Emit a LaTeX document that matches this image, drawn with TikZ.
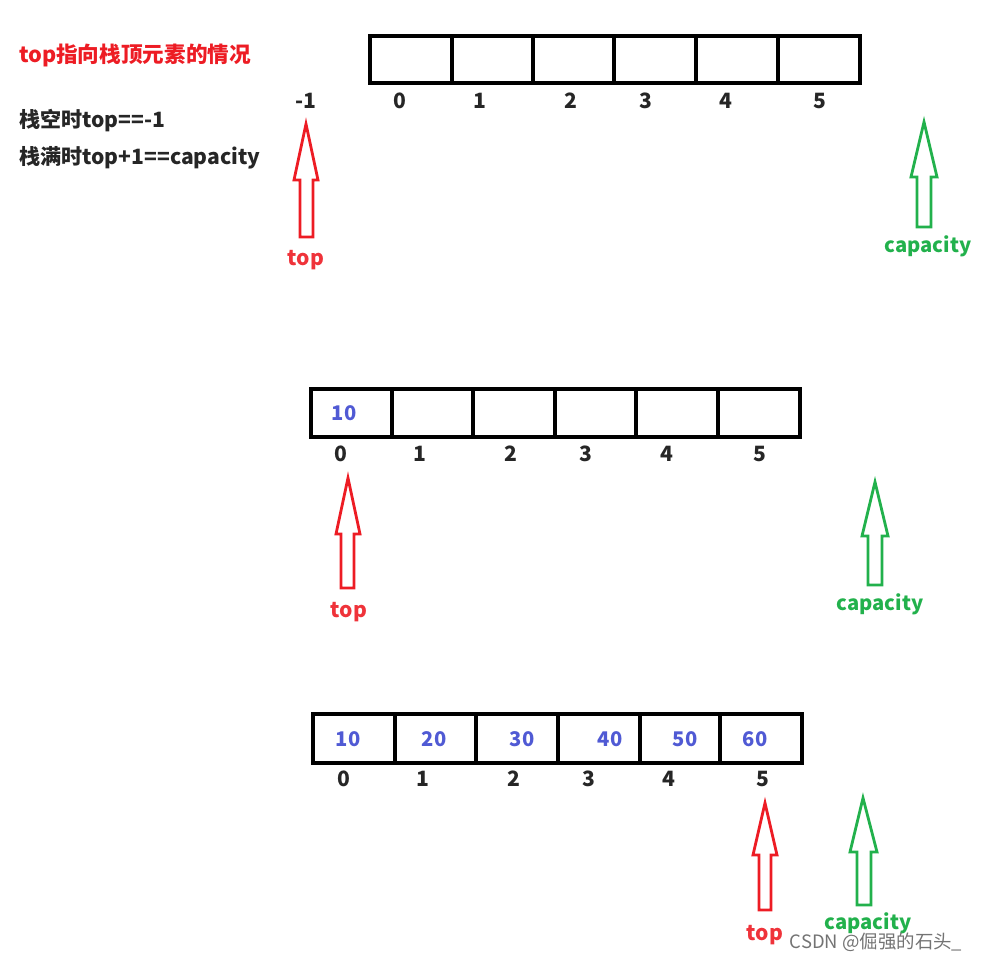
\documentclass[tikz,border=0pt]{standalone}
\usepackage{fontspec}
\setmainfont{Noto Sans CJK SC}
\usetikzlibrary{arrows.meta}
\definecolor{arrred}{RGB}{237,28,36}
\definecolor{arrgreen}{RGB}{34,177,76}
\definecolor{valblue}{RGB}{80,90,212}
\tikzset{
  cellline/.style={black, line width=2pt},
  idx/.style={font=\fontsize{12}{14}\selectfont\bfseries, text=black!85},
  val/.style={font=\fontsize{11.5}{13}\selectfont\bfseries, text=valblue},
  note/.style={font=\fontsize{12}{15}\selectfont\bfseries, text=black!85, anchor=west},
  redarrow/.style={draw=arrred, line width=1.6pt, line join=miter},
  greenarrow/.style={draw=arrgreen, line width=1.6pt, line join=miter},
  redlabel/.style={font=\fontsize{12}{14}\selectfont\bfseries, text=arrred!90},
  greenlabel/.style={font=\fontsize{11.5}{14}\selectfont\bfseries, text=arrgreen}
}

\begin{document}
\begin{tikzpicture}[x=0.02cm, y=-0.02cm]
\useasboundingbox (0,0) rectangle (983,960);
% notes
\node[note, text=arrred, font=\fontsize{12.3}{15}\selectfont\bfseries] (title) at (13,55) {top指向栈顶元素的情况};
\node[note] (empty) at (13,121) {栈空时top==-1};
\node[note] (full) at (13,158) {栈满时top+1==capacity};
% first array
\draw[cellline] (370,36) rectangle (860,83);
\draw[cellline] (452,36) -- (452,83);
\draw[cellline] (533,36) -- (533,83);
\draw[cellline] (614,36) -- (614,83);
\draw[cellline] (696,36) -- (696,83);
\draw[cellline] (778,36) -- (778,83);
\node[idx] (a1m) at (306,101) {-1};
\node[idx] (a10) at (400,101) {0};
\node[idx] (a11) at (480,101) {1};
\node[idx] (a12) at (571,101) {2};
\node[idx] (a13) at (646,101) {3};
\node[idx] (a14) at (726,101) {4};
\node[idx] (a15) at (820,101) {5};
\draw[redarrow] (306,124) -- (318,180) -- (313,180) -- (313,237) -- (300,237) -- (300,180) -- (294,180) -- cycle;
\node[redlabel] (top1) at (306,260) {top};
\draw[greenarrow] (924,122) -- (937,177) -- (931,177) -- (931,227) -- (917,227) -- (917,177) -- (911,177) -- cycle;
\node[greenlabel] (cap1) at (928,246) {capacity};
% second array
\draw[cellline] (311,389) rectangle (800,437);
\draw[cellline] (392,389) -- (392,437);
\draw[cellline] (473,389) -- (473,437);
\draw[cellline] (555,389) -- (555,437);
\draw[cellline] (636,389) -- (636,437);
\draw[cellline] (718,389) -- (718,437);
\node[val] (b0v) at (344,413) {10};
\node[idx] (b0) at (341,454) {0};
\node[idx] (b1) at (420,454) {1};
\node[idx] (b2) at (511,454) {2};
\node[idx] (b3) at (586,454) {3};
\node[idx] (b4) at (667,454) {4};
\node[idx] (b5) at (760,454) {5};
\draw[redarrow] (348,478) -- (360,534) -- (354,534) -- (354,588) -- (341,588) -- (341,534) -- (336,534) -- cycle;
\node[redlabel] (top2) at (349,612) {top};
\draw[greenarrow] (875,482) -- (888,536) -- (882,536) -- (882,585) -- (868,585) -- (868,536) -- (862,536) -- cycle;
\node[greenlabel] (cap2) at (880,604) {capacity};
% third array
\draw[cellline] (313,714) rectangle (802,763);
\draw[cellline] (395,714) -- (395,763);
\draw[cellline] (476,714) -- (476,763);
\draw[cellline] (558,714) -- (558,763);
\draw[cellline] (640,714) -- (640,763);
\draw[cellline] (720,714) -- (720,763);
\node[val] (c0v) at (348,739) {10};
\node[val] (c1v) at (434,739) {20};
\node[val] (c2v) at (522,739) {30};
\node[val] (c3v) at (610,739) {40};
\node[val] (c4v) at (685,739) {50};
\node[val] (c5v) at (755,739) {60};
\node[idx] (c0) at (344,779) {0};
\node[idx] (c1) at (423,779) {1};
\node[idx] (c2) at (514,779) {2};
\node[idx] (c3) at (589,779) {3};
\node[idx] (c4) at (669,779) {4};
\node[idx] (c5) at (763,779) {5};
\draw[redarrow] (765,803) -- (777,855) -- (771,855) -- (771,910) -- (759,910) -- (759,855) -- (753,855) -- cycle;
\node[redlabel] (top3) at (765,935) {top};
\draw[greenarrow] (863,798) -- (877,852) -- (871,852) -- (871,905) -- (857,905) -- (857,852) -- (850,852) -- cycle;
\node[greenlabel] (cap3) at (868,923) {capacity};
\node[font=\fontsize{10.5}{12}\selectfont, text=black!55] (mark) at (876,942) {CSDN @倔强的石头\_};
\end{tikzpicture}
\end{document}
